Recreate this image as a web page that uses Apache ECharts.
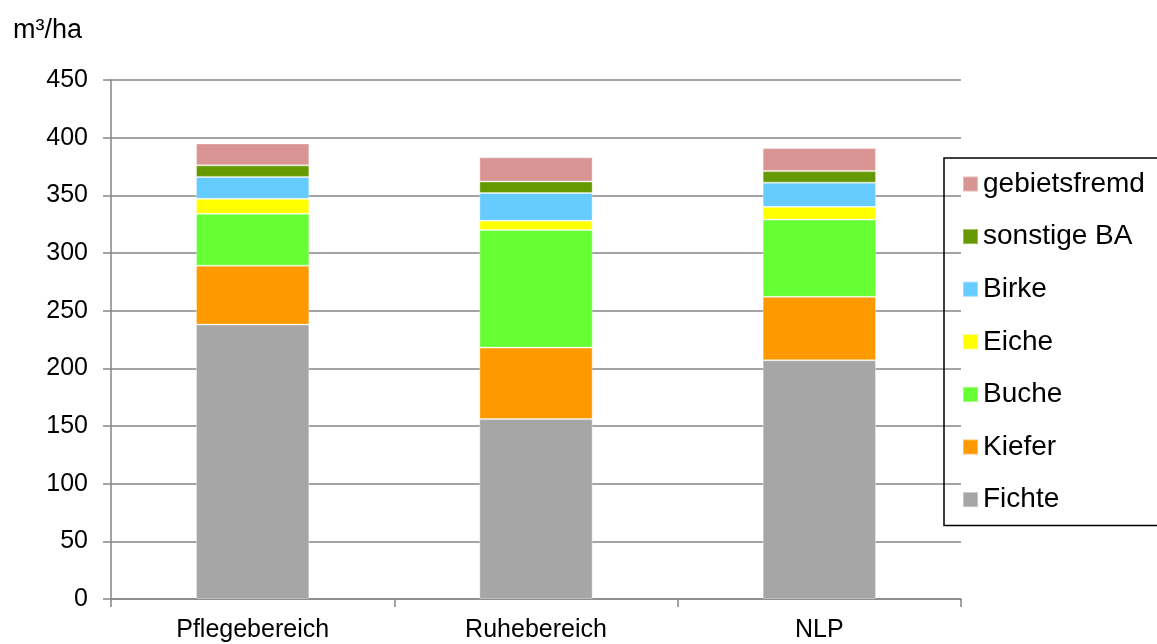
<!DOCTYPE html>
<html>
<head>
<meta charset="utf-8">
<script src="https://cdn.jsdelivr.net/npm/echarts@6/dist/echarts.min.js"></script>
<style>
html,body{margin:0;padding:0;background:#fff;}
#c{width:1157px;height:644px;}
</style>
</head>
<body>
<div id="c"></div>
<script>
const categories = ['Pflegebereich', 'Ruhebereich', 'NLP'];
const fichte = [238, 156, 207];
const kiefer = [51, 62, 55];
const buche = [45, 102, 67];
const eiche = [13, 8, 11];
const birke = [19, 24, 21];
const sonstigeBA = [10, 10, 10];
const gebietsfremd = [19, 21, 20];
const yTicks = [0, 50, 100, 150, 200, 250, 300, 350, 400, 450];

const seriesDefs = [
  ['Fichte', fichte, '#A6A6A6'],
  ['Kiefer', kiefer, '#FF9900'],
  ['Buche', buche, '#66FF33'],
  ['Eiche', eiche, '#FFFF00'],
  ['Birke', birke, '#66CCFF'],
  ['sonstige BA', sonstigeBA, '#669900'],
  ['gebietsfremd', gebietsfremd, '#D99594']
];

const FONT = "'Liberation Sans', Arial, sans-serif";
const chart = echarts.init(document.getElementById('c'), null, {renderer: 'canvas'});
chart.setOption({
  animation: false,
  backgroundColor: '#ffffff',
  textStyle: {fontFamily: FONT, color: '#000'},
  title: {
    text: 'm³/ha',
    left: 8, top: 12,
    textStyle: {fontFamily: FONT, fontSize: 27, fontWeight: 'normal', color: '#000'}
  },
  legend: {
    orient: 'vertical',
    left: 944, top: 158,
    data: seriesDefs.map(s => s[0]).reverse(),
    itemWidth: 15, itemHeight: 15,
    itemGap: 22.6,
    icon: 'rect',
    padding: [11, 20, 11, 18],
    borderColor: '#000', borderWidth: 1.5,
    textStyle: {fontFamily: FONT, fontSize: 28, color: '#000', lineHeight: 30, padding: [0, 0, 0, 0]}
  },
  grid: {left: 111, right: 196, top: 80, bottom: 45, containLabel: false},
  xAxis: {
    type: 'category',
    data: categories,
    axisLine: {lineStyle: {color: '#868686', width: 1.5}},
    axisTick: {show: true, length: 8, lineStyle: {color: '#868686', width: 1.5}},
    axisLabel: {fontFamily: FONT, fontSize: 25, color: '#000', margin: 19}
  },
  yAxis: {
    type: 'value',
    min: yTicks[0], max: yTicks[yTicks.length - 1], interval: yTicks[1] - yTicks[0],
    axisLine: {show: true, lineStyle: {color: '#868686', width: 1.5}},
    axisTick: {show: true, length: 8, lineStyle: {color: '#868686', width: 1.5}},
    splitLine: {show: true, lineStyle: {color: '#868686', width: 1.5}},
    axisLabel: {fontFamily: FONT, fontSize: 25, color: '#000', margin: 23}
  },
  series: seriesDefs.map(([name, data, color]) => ({
    name, type: 'bar', stack: 'total', data,
    barWidth: '40%',
    itemStyle: {color, borderColor: 'rgba(255,255,255,0.35)', borderWidth: 1}
  }))
});
</script>
</body>
</html>
